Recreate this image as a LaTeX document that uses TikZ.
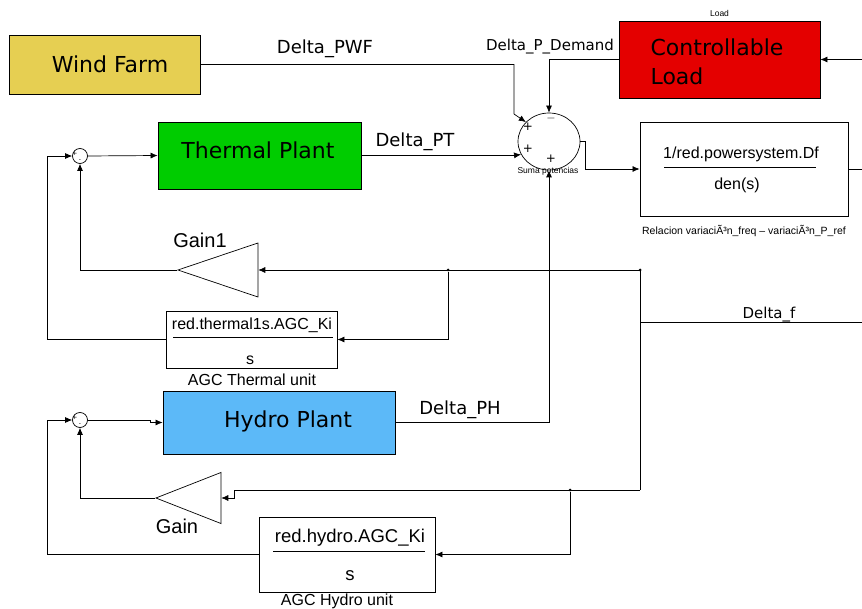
\documentclass[tikz,border=0pt]{standalone}
\usepackage{fontspec}
\setmainfont{DejaVu Sans}
\newfontfamily\simfont{Liberation Sans}
\usepackage{tikz}
\usetikzlibrary{arrows.meta}
\usetikzlibrary{shapes.geometric, positioning}

\definecolor{windyellow}{RGB}{230,207,82}
\definecolor{loadred}{RGB}{228,0,0}
\definecolor{thermalgreen}{RGB}{0,204,0}
\definecolor{hydroblue}{RGB}{92,185,248}

\tikzset{
    plant/.style={draw, line width=0.8pt, inner sep=0pt, font=\fontsize{22}{29}\selectfont},
    planttext/.style={font=\fontsize{22}{29}\selectfont, inner sep=0pt},
    tfbox/.style={draw, line width=0.8pt, inner sep=0pt},
    summer/.style={draw, circle, minimum size=15pt, inner sep=0pt},
    gainbox/.style={draw, isosceles triangle, isosceles triangle stretches, shape border rotate=180, inner sep=0pt, anchor=apex},
    signal/.style={font=\fontsize{18}{20}\selectfont, anchor=base},
    sign/.style={font=\fontsize{12}{12}\selectfont, inner sep=0pt},
    tinysign/.style={font=\fontsize{6}{6}\selectfont, inner sep=0pt},
    caption/.style={font=\simfont\fontsize{16}{18}\selectfont, inner sep=0pt},
    small/.style={font=\simfont\fontsize{8.5}{10}\selectfont, inner sep=0pt},
    dot/.style={circle, fill, inner sep=0pt, minimum size=3pt},
}

\begin{document}
\begin{tikzpicture}[x=1pt, y=-1pt, >={Latex[length=7pt,width=6pt]}, line width=0.7pt]

    \useasboundingbox (0,0) rectangle (862,609);

    % Sources
    \node[plant, fill=windyellow, minimum width=191pt, minimum height=59pt] (wind) at (104.5,64.5) {};
    \node[planttext] (windtext) at (110,64) {Wind Farm};
    \node[plant, fill=loadred, minimum width=201pt, minimum height=77pt] (load) at (719.5,59.5) {};
    \node[planttext, align=left] (loadtext) at (717,62) {Controllable\\Load};
    \node[small, above=4pt of load] (loadname) {Load};

    % Plants
    \node[plant, fill=thermalgreen, minimum width=203pt, minimum height=67pt] (thermal) at (259.5,155.5) {};
    \node[planttext] (thermaltext) at (258,150) {Thermal Plant};
    \node[plant, fill=hydroblue, minimum width=232pt, minimum height=63pt] (hydro) at (279,422.5) {};
    \node[planttext] (hydrotext) at (288,421) {Hydro Plant};

    % Power balance
    \node[draw, ellipse, minimum width=62pt, minimum height=57pt, inner sep=0pt] (sum) at (549,141.5) {};
    \node[sign] (sumpwf) at (528,127) {+};
    \node[sign] (sumpt) at (528,149) {+};
    \node[sign] (sumdem) at (551,119) {$-$};
    \node[sign] (sumph) at (551,159) {+};
    \node[small] (sumname) at (548,171) {Suma potencias};

    % System frequency response
    \node[tfbox, minimum width=208pt, minimum height=94pt] (tf) at (744,169) {};
    \node[font=\simfont\fontsize{16}{18}\selectfont] (tfnum) at (741,154) {1/red.powersystem.Df};
    \node[font=\simfont\fontsize{16}{18}\selectfont] (tfden) at (737,185) {den(s)};
    \draw (664,167) -- (816,167);
    \node[font=\simfont\fontsize{10.5}{12}\selectfont, below=5pt of tf] (tfname) {Relacion variaciÃ³n\_freq – variaciÃ³n\_P\_ref};

    % Thermal AGC loop
    \node[summer] (sum1) at (80,156) {};
    \node[tinysign] at (75,154) {+};
    \node[tinysign] at (80,161) {-};
    \node[gainbox, minimum width=54pt, minimum height=80pt] (gain1) at (177,270) {};
    \node[font=\simfont\fontsize{20}{22}\selectfont] (gain1name) at (200,240) {Gain1};
    \node[tfbox, minimum width=171pt, minimum height=57pt] (agct) at (251.5,339.5) {};
    \node[caption] (agctnum) at (252,325) {red.thermal1s.AGC\_Ki};
    \node[caption] (agctden) at (250,360) {s};
    \draw (173,337) -- (333,337);
    \node[caption] (agctname) at (252,380) {AGC Thermal unit};

    % Hydro AGC loop
    \node[summer] (sum2) at (80,420) {};
    \node[tinysign] at (75,418) {+};
    \node[tinysign] at (80,425) {-};
    \node[gainbox, minimum width=51pt, minimum height=65pt] (gain) at (155,498) {};
    \node[font=\simfont\fontsize{20}{22}\selectfont] (gainname) at (177,526) {Gain};
    \node[tfbox, minimum width=176pt, minimum height=75pt] (agch) at (347,554.5) {};
    \node[font=\simfont\fontsize{18.5}{20}\selectfont] (agchnum) at (350,538) {red.hydro.AGC\_Ki};
    \node[font=\simfont\fontsize{18.5}{20}\selectfont] (agchden) at (350,576) {s};
    \draw (273,551) -- (425,551);
    \node[caption] (agchname) at (337,601) {AGC Hydro unit};

    % Branch points
    \coordinate (loadin) at (862,59.5);
    \coordinate (tfout) at (862,169);
    \coordinate (fin) at (862,322);
    \coordinate (fjoin) at (640,322);
    \coordinate (ftop) at (640,270);
    \coordinate (fbot) at (640,490);
    \node[dot] (tjoin) at (448,270) {};
    \node[dot] (hjoin) at (570,490) {};
    \node[dot] at (ftop) {};

    % Power signals
    \draw[->] (wind.east) -- (514,64.5) -- (514,114) -- (sum.140);
    \draw[->] (thermal.east) -- (513,155.5) -- (sum.205);
    \draw[->] (load.west) -| (sum.north);
    \draw[->] (hydro.east) -| (sum.south);
    \draw[->] (loadin) -- (load.east);
    \draw[->] (sum.east) -- ++(5,0) |- (tf.west);
    \draw (tf.east) -- (tfout);
    \node[signal] (pwf) at (325,54) {Delta\_PWF};
    \node[signal] (pt) at (415,147) {Delta\_PT};
    \node[signal] (ph) at (460,414) {Delta\_PH};
    \node[signal, font=\fontsize{15}{17}\selectfont] (pdem) at (550,51) {Delta\_P\_Demand};

    % Frequency feedback
    \draw (fin) -- (fjoin);
    \draw (ftop) -- (fbot);
    \node[signal, font=\fontsize{15}{17}\selectfont] (df) at (769,319) {Delta\_f};
    \draw[->] (ftop) -- (gain1.east);
    \draw[->] (tjoin) |- (agct.east);
    \draw[->] (gain1.apex) -| (sum1.south);
    \draw[->] (agct.west) -- ++(-118,0) |- (sum1.west);
    \draw[->] (sum1.east) -- (thermal.west);

    \draw[->] (fbot) -- (234,490) -- (234,498) -- (gain.east);
    \draw[->] (hjoin) |- (agch.east);
    \draw[->] (gain.apex) -| (sum2.south);
    \draw[->] (agch.west) -- ++(-211,0) |- (sum2.west);
    \draw[->] (sum2.east) -- (150,420) |- (hydro.west);

\end{tikzpicture}
\end{document}
